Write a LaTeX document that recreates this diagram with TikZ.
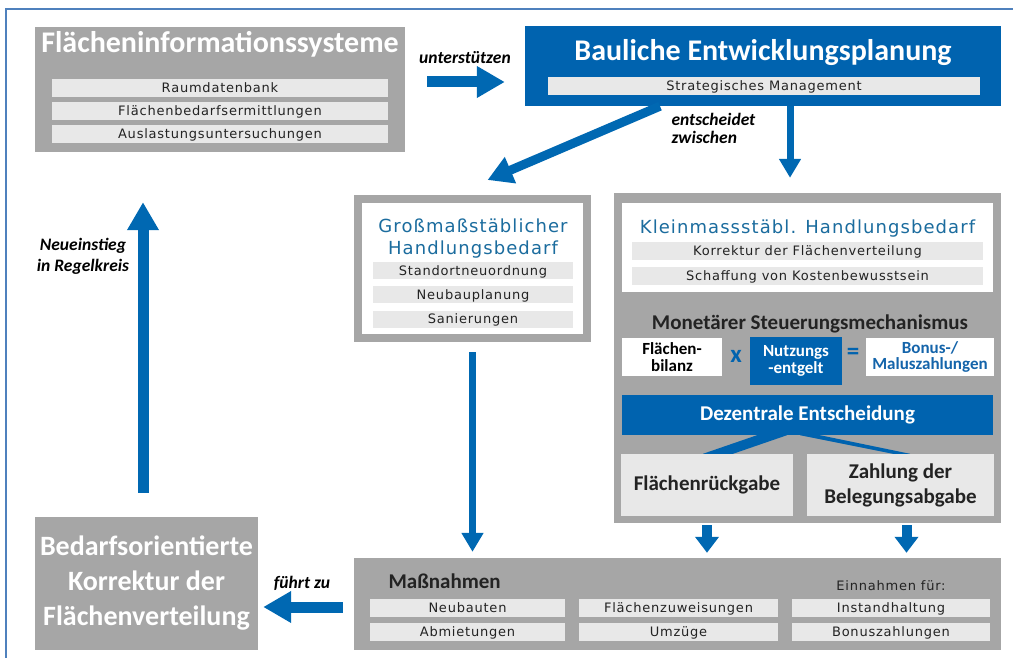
\documentclass[tikz,border=0pt]{standalone}
\usepackage{fontspec}
\setmainfont{DejaVu Sans}
\newfontfamily\spaced[LetterSpace=6]{DejaVu Sans}
\newfontfamily\calib{Carlito}
\usetikzlibrary{arrows.meta}
\definecolor{boxgray}{RGB}{166,166,166}
\definecolor{bargray}{RGB}{232,232,232}
\definecolor{uniblue}{RGB}{0,99,175}
\definecolor{arrowblue}{RGB}{0,104,178}
\definecolor{titleblue}{RGB}{27,108,158}
\definecolor{bonusblue}{RGB}{20,100,170}
\definecolor{darktext}{RGB}{35,35,35}
\definecolor{framecol}{RGB}{79,129,189}

\begin{document}
\begin{tikzpicture}[x=1pt,y=-1pt,
  graybox/.style={fill=boxgray,inner sep=0pt},
  bluebox/.style={fill=uniblue,inner sep=0pt},
  whitebox/.style={draw=boxgray,line width=8pt,fill=white,inner sep=0pt},
  plainbox/.style={fill=white,inner sep=0pt},
  lightbox/.style={fill=bargray,inner sep=0pt,headline,align=center},
  bar/.style={fill=bargray,inner sep=0pt,minimum height=18pt,text height=9.5pt,text depth=0pt,
    text=darktext,font=\spaced\fontsize{13}{15}\selectfont},
  bartext/.style={text=darktext,font=\spaced\fontsize{13}{15}\selectfont},
  bigtitle/.style={text=white,font=\calib\bfseries\fontsize{30}{36}\selectfont},
  bluetitle/.style={text=titleblue,font=\spaced\fontsize{18}{22}\selectfont},
  headline/.style={text=darktext,font=\calib\bfseries\fontsize{21}{25}\selectfont},
  smallbold/.style={font=\calib\bfseries\fontsize{17}{16.5}\selectfont,align=center},
  opsign/.style={text=uniblue,font=\calib\bfseries\fontsize{25}{25}\selectfont},
  arrlabel/.style={text=black,font=\calib\bfseries\itshape\fontsize{17.5}{18}\selectfont},
  bigarrow/.style={draw=arrowblue,line width=11pt,-{Triangle[length=28pt,width=30pt]}},
  diagarrow/.style={draw=arrowblue,line width=9pt,-{Triangle[length=25pt,width=27pt]}},
  thinarrow/.style={draw=arrowblue,line width=7pt,-{Triangle[length=19pt,width=21pt]}},
  shortarrow/.style={draw=arrowblue,line width=10pt,-{Triangle[length=16pt,width=23pt]}},
]
\useasboundingbox (0,0) rectangle (1015,658);
\draw[framecol,line width=2pt] (5,9) -- (1013,9);
\draw[framecol,line width=2pt] (6,9) -- (6,658);

% Flaecheninformationssysteme
\node[graybox,minimum width=370pt,minimum height=125pt] (fis) at (220,89.5) {};
\node[bigtitle,anchor=base] (fistitle) at (220,53) {Flächeninformationssysteme};
\node[bar,minimum width=336pt] (fisa) at (220,88) {Raumdatenbank};
\node[bar,minimum width=336pt] (fisb) at (220,111) {Flächenbedarfsermittlungen};
\node[bar,minimum width=336pt] (fisc) at (220,134) {Auslastungsuntersuchungen};

% Bauliche Entwicklungsplanung
\node[bluebox,minimum width=476pt,minimum height=80pt] (bep) at (763,66) {};
\node[bigtitle,anchor=base] (beptitle) at (763,61) {Bauliche Entwicklungsplanung};
\node[bar,minimum width=432pt] (bepa) at (764,86) {Strategisches Management};

% Grossmassstaeblicher Handlungsbedarf
\node[whitebox,minimum width=229pt,minimum height=139pt] (gross) at (472.5,268.5) {};
\node[bluetitle,anchor=base] (grosstitle) at (473,232) {Großmaßstäblicher};
\node[bluetitle,anchor=base] (grosstitleb) at (473,254) {Handlungsbedarf};
\node[bar,minimum width=200pt,minimum height=17pt] (grossa) at (473,270.5) {Standortneuordnung};
\node[bar,minimum width=200pt,minimum height=17pt] (grossb) at (473,294.5) {Neubauplanung};
\node[bar,minimum width=200pt,minimum height=17pt] (grossc) at (473,319) {Sanierungen};

% Kleinmassstaeblicher Handlungsbedarf
\node[graybox,minimum width=387pt,minimum height=330pt] (right) at (807.5,358) {};
\node[plainbox,minimum width=371pt,minimum height=89pt] (klein) at (807.5,247.5) {};
\node[bluetitle,anchor=base] (kleintitle) at (807.5,233) {Kleinmassstäbl. Handlungsbedarf};
\node[bar,minimum width=351pt] (kleina) at (807.5,251) {Korrektur der Flächenverteilung};
\node[bar,minimum width=351pt] (kleinb) at (807.5,276) {Schaffung von Kostenbewusstsein};
\node[headline,anchor=base] (monet) at (810,329) {Monetärer Steuerungsmechanismus};
\node[plainbox,minimum width=100pt,minimum height=38pt,smallbold,text=black] (bilanz) at (672,357) {Flächen-\\bilanz};
\node[opsign] (times) at (736,356) {x};
\node[bluebox,minimum width=92pt,minimum height=48pt,smallbold,text=white] (nutz) at (796,361) {Nutzungs\\-entgelt};
\node[opsign] (equals) at (853,354) {=};
\node[plainbox,minimum width=128pt,minimum height=38pt,smallbold,text=bonusblue] (bonus) at (930,357) {Bonus-/\\Maluszahlungen};
\node[bluebox,minimum width=371pt,minimum height=40pt,headline,text=white] (dez) at (807.5,415) {Dezentrale Entscheidung};
\node[lightbox,minimum width=172pt,minimum height=62pt] (frueck) at (707,485) {Flächenrückgabe};
\node[lightbox,minimum width=187pt,minimum height=62pt] (zahl) at (900.5,485) {Zahlung der\\Belegungsabgabe};
\fill[uniblue] ([xshift=-50.5pt]dez.south) -- ([xshift=-20.5pt]dez.south)
  -- ([xshift=26pt]frueck.north) -- ([xshift=-4pt]frueck.north) -- cycle;
\fill[uniblue] ([xshift=-7.5pt]dez.south) -- ([xshift=12.5pt]dez.south)
  -- ([xshift=9.5pt]zahl.north) -- ([xshift=-7.5pt]zahl.north) -- cycle;

% Massnahmen
\node[graybox,minimum width=647pt,minimum height=92pt] (massn) at (677.5,604) {};
\node[headline,anchor=base west] (massntitle) at (385,588) {Maßnahmen};
\node[bartext] (einn) at (891,586) {Einnahmen für:};
\node[bar,minimum width=195pt] (massna) at (467.5,608) {Neubauten};
\node[bar,minimum width=195pt] (massnb) at (467.5,632) {Abmietungen};
\node[bar,minimum width=199pt] (massnc) at (678.5,608) {Flächenzuweisungen};
\node[bar,minimum width=199pt] (massnd) at (678.5,632) {Umzüge};
\node[bar,minimum width=198pt] (massne) at (891,608) {Instandhaltung};
\node[bar,minimum width=198pt] (massnf) at (891,632) {Bonuszahlungen};

% Bedarfsorientierte Korrektur
\node[graybox,minimum width=223pt,minimum height=133pt,bigtitle,align=center,
  font=\calib\bfseries\fontsize{28}{35}\selectfont] (bed) at (146.5,583.5)
  {Bedarfsorientierte\\Korrektur der\\Flächenverteilung};

% labels
\node[arrlabel] (unt) at (465,58) {unterstützen};
\node[arrlabel,align=left,anchor=west] (entsch) at (668,128.5) {entscheidet\\zwischen};
\node[arrlabel,align=center,font=\calib\bfseries\itshape\fontsize{17.5}{21}\selectfont] (neu) at (83,256) {Neueinstieg\\in Regelkreis};
\node[arrlabel] (fuehrt) at (302,583) {führt zu};

% arrows
\coordinate (fe) at ([yshift=7.5pt]fis.east);
\coordinate (bs) at ([xshift=27pt]bep.south);
\coordinate (zs) at ([xshift=6pt]zahl.south);
\coordinate (mw) at ([yshift=-3pt]massn.west);
\coordinate (bn) at ([xshift=-3.5pt]bed.north);
\draw[bigarrow,shorten <=22pt,shorten >=20pt] (fe) -- (fe -| bep.west);
\draw[diagarrow] ([xshift=-103pt]bep.south) -- ([xshift=15pt,yshift=15pt]gross.north);
\draw[thinarrow,shorten >=15pt] (bs) -- (bs |- right.north);
\draw[thinarrow,shorten <=10pt,shorten >=6pt] (gross.south) -- (gross.south |- massn.north);
\draw[shortarrow,shorten <=2pt,shorten >=5pt] (frueck.south |- right.south) -- (frueck.south |- massn.north);
\draw[shortarrow,shorten <=2pt,shorten >=5pt] (zs |- right.south) -- (zs |- massn.north);
\draw[bigarrow,shorten <=11pt,shorten >=5pt] (mw) -- (mw -| bed.east);
\draw[bigarrow,shorten <=24pt,shorten >=50pt] (bn) -- (bn |- fis.south);
\end{tikzpicture}
\end{document}
